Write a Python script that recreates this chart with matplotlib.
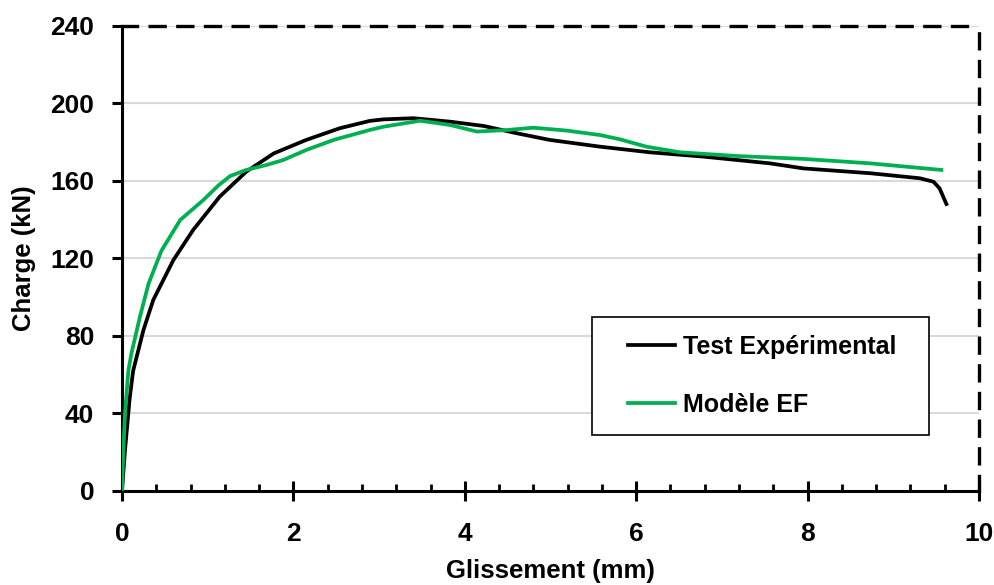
import numpy as np
import matplotlib
matplotlib.use('Agg')
import matplotlib.pyplot as plt
from matplotlib.patches import Rectangle
from matplotlib.ticker import MultipleLocator

# valeurs (glissement mm, charge kN)
exp_slip = [0, 0.035, 0.09, 0.13, 0.25, 0.365, 0.6, 0.83, 1.14, 1.45, 1.77, 2.15, 2.54, 2.89,
            3.05, 3.40, 3.83, 4.22, 4.61, 4.99, 5.58, 6.16, 6.78, 7.56, 7.95, 8.73, 9.31, 9.47,
            9.54, 9.62]
exp_load = [0, 21, 48, 62, 83, 98.6, 119.2, 134.7, 151.9, 164.8, 174.2, 181.2, 187.2, 191,
            191.8, 192.4, 190.6, 188.4, 184.6, 181.2, 177.7, 174.8, 172.6, 169.1, 166.5, 164,
            161.4, 159.6, 156.2, 148.1]

ef_slip = [0, 0.016, 0.035, 0.074, 0.11, 0.21, 0.31, 0.46, 0.68, 0.95, 1.12, 1.26, 1.45, 1.69, 1.88,
           2.15, 2.47, 2.89, 3.05, 3.48, 3.83, 4.14, 4.49, 4.80, 5.19, 5.58, 5.81, 6.12, 6.51,
           7.17, 7.95, 8.73, 9.56]
ef_load = [0, 21, 40, 62, 71, 90, 107, 124, 139.9, 150.2, 157.5, 162.5, 165.7, 168.3, 170.8,
           176, 181.2, 186.3, 188, 191.1, 188.9, 185.5, 186.3, 187.5, 186, 183.7, 181.5, 177.7, 174.8,
           172.9, 171.4, 169.1, 165.7]

labels = ['Test Expérimental', 'Modèle EF']

plt.rcParams['font.family'] = ['Liberation Sans', 'DejaVu Sans']
plt.rcParams['font.weight'] = 'bold'

fig = plt.figure(figsize=(9.95, 5.85), dpi=100)
ax = fig.add_axes([0.1226, 0.1607, 0.8613, 0.7949])

ax.plot(exp_slip, exp_load, color='black', lw=2.7, label=labels[0], solid_joinstyle='round', zorder=3)
ax.plot(ef_slip, ef_load, color='#00b050', lw=2.7, label=labels[1], solid_joinstyle='round', zorder=3)

ax.set_xlim(0, 10)
ax.set_ylim(0, 240)
ax.xaxis.set_major_locator(MultipleLocator(2))
ax.xaxis.set_minor_locator(MultipleLocator(0.4))
ax.yaxis.set_major_locator(MultipleLocator(40))

ax.grid(axis='y', color='#d9d9d9', lw=1.5, zorder=0)
ax.set_axisbelow(True)

for s in ['left', 'bottom']:
    ax.spines[s].set_linewidth(2.2)
for s in ['top', 'right']:
    ax.spines[s].set_linewidth(2.4)
    ax.spines[s].set_linestyle((0, (4.5, 3.8)))

ax.tick_params(axis='x', which='major', direction='inout', length=14, width=2.2, pad=15, labelsize=19)
ax.tick_params(axis='x', which='minor', direction='in', length=5, width=2)
ax.tick_params(axis='y', which='major', direction='out', length=7, width=2.2, pad=13, labelsize=19)

ax.set_xlabel('Glissement (mm)', fontsize=18.5, fontweight='bold', labelpad=10)
ax.set_ylabel('Charge (kN)', fontsize=18.5, fontweight='bold', labelpad=10)

# cadre de la légende dessiné à part
frame = Rectangle((0.548, 0.120), 0.394, 0.254, transform=ax.transAxes, facecolor='white',
                  edgecolor='black', lw=1.2, zorder=4)
ax.add_patch(frame)

leg = ax.legend(loc='center left', bbox_to_anchor=(0.590, 0.247), fontsize=18, frameon=False,
                borderaxespad=0, borderpad=0, handlelength=1.9, handletextpad=0.3,
                labelspacing=1.36)
leg.set_zorder(5)
for t in leg.get_texts():
    t.set_fontweight('bold')

plt.savefig('out.png', dpi=100)
